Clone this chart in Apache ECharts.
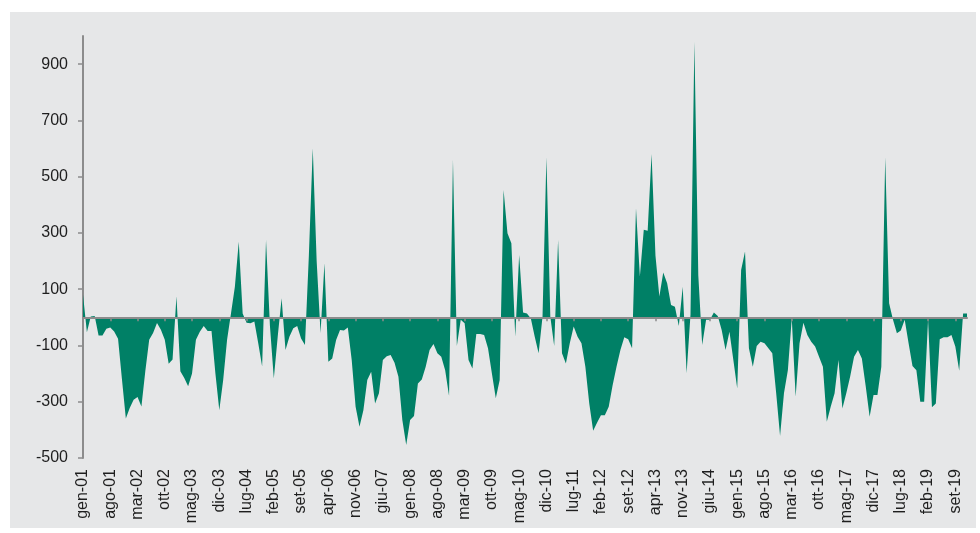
<!DOCTYPE html>
<html>
<head>
<meta charset="utf-8">
<script src="https://cdn.jsdelivr.net/npm/echarts@6/dist/echarts.min.js"></script>
<style>
html,body{margin:0;padding:0;background:#ffffff;}
#bg{position:absolute;left:10px;top:12px;width:966px;height:516px;background:#e6e7e8;}
#chart{position:absolute;left:0;top:0;width:980px;height:533px;}
</style>
</head>
<body>
<div id="bg"></div>
<div id="chart"></div>
<script>
// Italian month abbreviations and years covered (gen-01 .. dic-19)
const monthNames = ['gen','feb','mar','apr','mag','giu','lug','ago','set','ott','nov','dic'];
const years = ['01','02','03','04','05','06','07','08','09','10','11','12','13','14','15','16','17','18','19'];

// Monthly values (one row per year)
const values = [
  80, -53, 3, 5, -65, -65, -41, -36, -50, -76, -220, -360,
  -322, -293, -283, -317, -192, -80, -56, -20, -44, -80, -165, -150,
  75, -192, -216, -245, -200, -80, -51, -31, -49, -49, -200, -330,
  -223, -80, 14, 109, 269, 14, -19, -21, -15, -92, -175, 275,
  -30, -217, -69, 68, -116, -69, -39, -31, -75, -98, 220, 601,
  200, -57, 192, -158, -146, -81, -45, -47, -36, -152, -318, -389,
  -330, -223, -193, -306, -270, -152, -138, -134, -161, -211, -365, -454,
  -365, -351, -235, -221, -176, -116, -95, -128, -140, -188, -280, 560,
  -102, -9, -21, -152, -182, -59, -59, -63, -110, -200, -288, -223,
  453, 299, 263, -69, 222, 17, 14, -4, -69, -128, 2, 569,
  2, -102, 275, -128, -164, -92, -33, -69, -92, -176, -306, -403,
  -375, -348, -348, -318, -241, -176, -116, -71, -78, -110, 388, 145,
  311, 308, 581, 220, 74, 159, 121, 44, 38, -31, 109, -199,
  10, 980, 150, -98, -9, -9, 17, 5, -45, -116, -51, -152,
  -253, 168, 234, -110, -176, -102, -87, -92, -110, -128, -270, -422,
  -270, -188, -4, -282, -92, -19, -63, -87, -104, -140, -176, -371,
  -318, -270, -152, -324, -270, -210, -140, -116, -146, -246, -353, -276,
  -276, -176, 569, 50, -9, -57, -47, -9, -92, -173, -188, -300,
  -300, -9, -320, -306, -78, -71, -71, -63, -104, -190, 14, 14
];

// Y-axis tick labels
const yTicks = [-500, -300, -100, 100, 300, 500, 700, 900];

const categories = [];
years.forEach(y => monthNames.forEach(m => categories.push(m + '-' + y)));

const axisGrey = '#8c8c8c';
const font = '"Liberation Sans", Arial, sans-serif';

const chart = echarts.init(document.getElementById('chart'), null, {renderer: 'canvas'});
chart.setOption({
  backgroundColor: 'transparent',
  animation: false,
  grid: {left: 83, right: 13, top: 36, bottom: 75, containLabel: false},
  xAxis: [
    {
      type: 'category',
      data: categories,
      boundaryGap: false,
      z: 5,
      axisLine: {show: true, onZero: true, lineStyle: {color: axisGrey, width: 2}},
      axisTick: {show: true, interval: 6, length: 4, lineStyle: {color: axisGrey, width: 1.5}},
      axisLabel: {show: false},
      splitLine: {show: false}
    },
    {
      type: 'category',
      data: categories,
      boundaryGap: false,
      position: 'bottom',
      axisLine: {show: false, onZero: false},
      axisTick: {show: false},
      axisLabel: {
        show: true, interval: 6, rotate: 90, margin: 11,
        fontSize: 16, color: '#1e1e1e', fontFamily: font
      },
      splitLine: {show: false}
    }
  ],
  yAxis: {
    type: 'value',
    min: -500,
    max: 1000,
    interval: 200,
    axisLine: {show: true, lineStyle: {color: axisGrey, width: 2}},
    axisTick: {show: true, length: 5, customValues: yTicks, lineStyle: {color: axisGrey, width: 1.5}},
    axisLabel: {show: true, customValues: yTicks, margin: 15, fontSize: 16, color: '#1e1e1e', fontFamily: font},
    splitLine: {show: false}
  },
  series: [{
    type: 'line',
    xAxisIndex: 0,
    data: values,
    symbol: 'none',
    smooth: false,
    lineStyle: {width: 0, color: '#008066'},
    itemStyle: {color: '#008066'},
    areaStyle: {color: '#008066', opacity: 1},
    z: 2
  }]
});
</script>
</body>
</html>
